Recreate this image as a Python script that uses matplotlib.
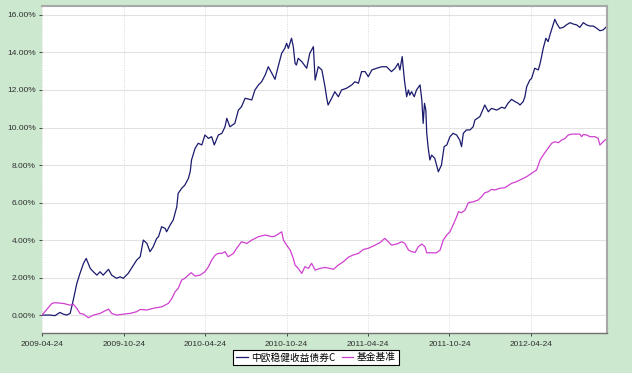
import matplotlib
matplotlib.use("Agg")
import matplotlib.pyplot as plt
import matplotlib.dates as mdates
import numpy as np
import pandas as pd

# ── data (days since 2009-04-24, return in %) ────────────────────────────────

START = "2009-04-24"

FUND_NAME = "中欧稳健收益债券C"
BENCH_NAME = "基金基准"

fund_days = [
    0, 18, 29, 40, 48, 55, 63, 70, 78, 85, 93, 99, 108, 115, 123, 130, 137,
    149, 156, 167, 175, 182, 193, 205, 212, 220, 227, 235, 242, 249, 257, 261,
    268, 276, 279, 287, 294, 302, 305, 313, 320, 328, 332, 335, 343, 350, 358,
    365, 373, 380, 386, 395, 403, 410, 414, 421, 432, 440, 447, 455, 470, 477,
    485, 492, 500, 507, 515, 522, 529, 537, 544, 548, 552, 559, 563, 567, 570,
    574, 582, 593, 600, 608, 612, 619, 627, 634, 638, 641, 649, 656, 664, 671,
    682, 694, 701, 709, 716, 724, 731, 739, 750, 761, 772, 783, 791, 798, 802,
    807, 812, 817, 821, 824, 828, 834, 839, 847, 851, 854, 857, 860, 862, 865,
    869, 873, 880, 888, 895, 901, 907, 914, 921, 929, 936, 940, 944, 951, 959,
    966, 970, 981, 989, 992, 1000, 1007, 1019, 1030, 1037, 1044, 1052, 1060,
    1067, 1071, 1078, 1082, 1086, 1093, 1097, 1104, 1112, 1117, 1123, 1129,
    1134, 1138, 1144, 1149, 1153, 1160, 1168, 1175, 1183, 1190, 1198, 1205,
    1213, 1220, 1228, 1235, 1243, 1250, 1257, 1265,
]
fund_ret = [
    0.00, 0.00, -0.03, 0.14, 0.05, 0.00, 0.09, 0.80, 1.69, 2.22, 2.76, 3.02,
    2.49, 2.31, 2.13, 2.31, 2.13, 2.44, 2.13, 1.96, 2.04, 1.96, 2.22, 2.67,
    2.93, 3.11, 4.00, 3.82, 3.38, 3.64, 4.09, 4.18, 4.71, 4.62, 4.44, 4.80,
    5.07, 5.78, 6.49, 6.76, 6.93, 7.29, 7.64, 8.27, 8.89, 9.16, 9.07, 9.60,
    9.42, 9.51, 9.07, 9.60, 9.69, 10.04, 10.49, 10.04, 10.22, 10.93, 11.11,
    11.56, 11.47, 12.00, 12.27, 12.44, 12.80, 13.24, 12.89, 12.57, 13.24,
    13.96, 14.22, 14.49, 14.22, 14.76, 14.31, 13.42, 13.33, 13.69, 13.51,
    13.16, 13.96, 14.31, 12.53, 13.24, 13.07, 12.18, 11.56, 11.20, 11.56,
    11.91, 11.64, 12.00, 12.09, 12.27, 12.44, 12.36, 12.98, 12.98, 12.71,
    13.07, 13.16, 13.24, 13.24, 12.98, 13.16, 13.42, 13.07, 13.78, 12.53,
    11.64, 12.00, 11.73, 11.91, 11.64, 12.00, 12.27, 11.47, 10.22, 11.29,
    10.93, 9.69, 8.98, 8.27, 8.53, 8.36, 7.64, 8.00, 8.98, 9.07, 9.51, 9.69,
    9.60, 9.33, 8.98, 9.69, 9.87, 9.87, 10.04, 10.40, 10.58, 11.02, 11.20,
    10.84, 11.02, 10.93, 11.08, 11.02, 11.29, 11.50, 11.38, 11.29, 11.20,
    11.38, 11.64, 12.18, 12.53, 12.62, 13.16, 13.07, 13.51, 14.22, 14.76,
    14.58, 14.93, 15.38, 15.77, 15.56, 15.29, 15.34, 15.47, 15.59, 15.52,
    15.47, 15.34, 15.59, 15.47, 15.41, 15.41, 15.29, 15.16, 15.20, 15.38,
]

bench_days = [
    0, 22, 29, 48, 63, 70, 78, 85, 93, 104, 115, 130, 149, 156, 167, 182, 197,
    212, 220, 235, 249, 268, 283, 291, 298, 305, 313, 320, 328, 334, 343, 354,
    365, 373, 380, 388, 395, 403, 410, 417, 429, 436, 447, 459, 470, 485, 500,
    515, 522, 537, 541, 548, 556, 563, 567, 574, 582, 589, 597, 604, 612, 623,
    634, 645, 653, 664, 675, 686, 697, 709, 720, 731, 742, 757, 768, 776, 783,
    795, 806, 813, 821, 828, 836, 843, 851, 858, 862, 873, 884, 892, 899, 907,
    914, 921, 929, 933, 940, 948, 955, 966, 977, 985, 992, 1000, 1007, 1015,
    1026, 1037, 1052, 1063, 1075, 1086, 1097, 1108, 1116, 1123, 1131, 1142,
    1149, 1157, 1164, 1172, 1179, 1187, 1198, 1205, 1209, 1213, 1220, 1228,
    1239, 1246, 1250, 1254, 1261, 1265,
]
bench_ret = [
    0.00, 0.62, 0.66, 0.62, 0.53, 0.58, 0.36, 0.09, 0.05, -0.14, 0.00, 0.09,
    0.32, 0.09, 0.00, 0.05, 0.09, 0.18, 0.30, 0.27, 0.36, 0.44, 0.62, 0.89,
    1.24, 1.42, 1.87, 1.96, 2.13, 2.26, 2.08, 2.13, 2.31, 2.58, 2.93, 3.20,
    3.29, 3.29, 3.38, 3.11, 3.29, 3.56, 3.91, 3.82, 4.00, 4.18, 4.27, 4.18,
    4.21, 4.44, 4.00, 3.73, 3.47, 3.02, 2.67, 2.49, 2.22, 2.58, 2.49, 2.76,
    2.40, 2.49, 2.54, 2.49, 2.44, 2.67, 2.84, 3.08, 3.20, 3.29, 3.50, 3.56,
    3.68, 3.86, 4.09, 3.91, 3.73, 3.79, 3.91, 3.82, 3.47, 3.38, 3.34, 3.64,
    3.79, 3.64, 3.32, 3.32, 3.32, 3.47, 4.00, 4.27, 4.44, 4.80, 5.24, 5.51,
    5.46, 5.60, 5.99, 6.04, 6.13, 6.31, 6.52, 6.58, 6.70, 6.67, 6.76, 6.79,
    7.02, 7.11, 7.25, 7.38, 7.56, 7.73, 8.27, 8.53, 8.80, 9.16, 9.24, 9.19,
    9.33, 9.42, 9.60, 9.65, 9.65, 9.65, 9.51, 9.63, 9.60, 9.51, 9.51, 9.42,
    9.07, 9.16, 9.33, 9.37,
]

x_ticks = ["2009-04-24", "2009-10-24", "2010-04-24", "2010-10-24",
           "2011-04-24", "2011-10-24", "2012-04-24"]
y_ticks = [0, 2, 4, 6, 8, 10, 12, 14, 16]

# ── styling ──────────────────────────────────────────────────────────────────

BG = "#CCE8CF"
FUND_COLOR = "#1A1A6E"
BENCH_COLOR = "#D040D0"

plt.rcParams["font.family"] = ["Liberation Sans", "DejaVu Sans"]

t0 = pd.Timestamp(START)
fund_dates = t0 + pd.to_timedelta(fund_days, unit="D")
bench_dates = t0 + pd.to_timedelta(bench_days, unit="D")

fig = plt.figure(figsize=(6.32, 3.73), dpi=100)
fig.patch.set_facecolor(BG)
ax = fig.add_axes([0.0665, 0.107, 0.894, 0.877])
ax.set_facecolor("white")

ax.plot(fund_dates, fund_ret, color=FUND_COLOR, linewidth=0.9, label=FUND_NAME)
ax.plot(bench_dates, bench_ret, color=BENCH_COLOR, linewidth=0.9, label=BENCH_NAME)

ax.set_ylim(-0.96, 16.48)
ax.set_xlim(t0, t0 + pd.Timedelta(days=1266))
ax.set_yticks(y_ticks)
ax.set_yticklabels([f"{v:.2f}%" for v in y_ticks])
ax.set_xticks(pd.to_datetime(x_ticks))
ax.set_xticklabels(x_ticks)

ax.grid(axis="y", color="#E2E2E2", linewidth=0.8, linestyle="-")
ax.grid(axis="x", color="#D8D8D8", linewidth=0.7, linestyle=(0, (1, 1.5)))
ax.set_axisbelow(True)

ax.tick_params(axis="both", labelsize=6, colors="#303030", length=2.5,
               width=0.6, pad=2)
ax.tick_params(axis="x", pad=3)

ax.spines["left"].set_visible(False)
ax.spines["bottom"].set_color("#707070")
ax.spines["bottom"].set_linewidth(1.0)
for side in ("top", "right"):
    ax.spines[side].set_color("#A8A8A8")
    ax.spines[side].set_linewidth(1.5)

leg = fig.legend(
    loc="center", bbox_to_anchor=(0.5, 0.042), ncol=2, frameon=True,
    fancybox=False, edgecolor="black", facecolor="white", framealpha=1,
    prop={"family": ["Noto Sans CJK SC", "DejaVu Sans"], "size": 7},
    handlelength=1.2, handletextpad=0.4, columnspacing=0.6,
    borderpad=0.25, borderaxespad=0,
)
leg.get_frame().set_linewidth(0.8)

fig.savefig("out.png", dpi=100, facecolor=fig.get_facecolor())
